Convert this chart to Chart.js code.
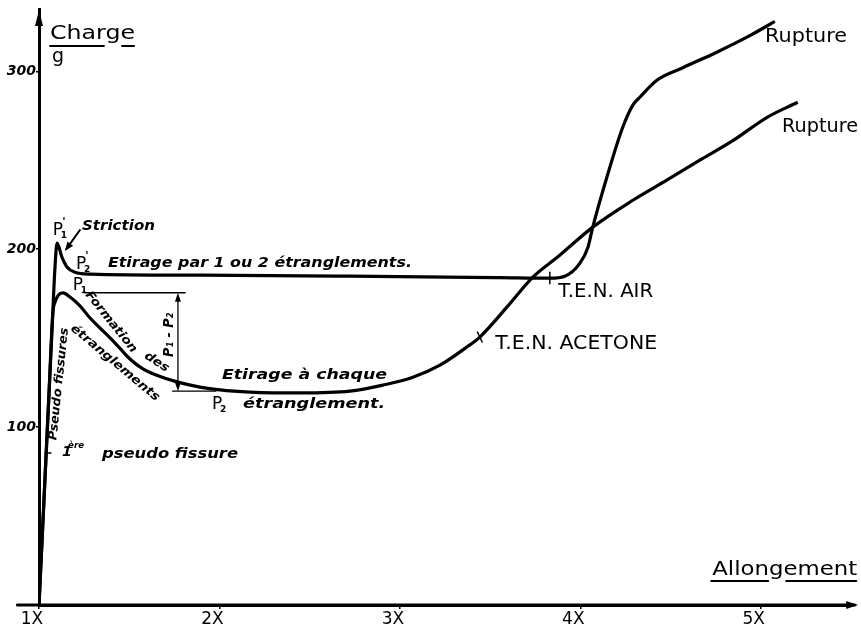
<!DOCTYPE html>
<html>
<head>
<meta charset="utf-8">
<script src="https://cdn.jsdelivr.net/npm/chart.js@4.4.1/dist/chart.umd.min.js"></script>
<style>
  html, body { margin: 0; padding: 0; background: #fff; }
  #wrap { width: 861px; height: 628px; }
</style>
</head>
<body>
<div id="wrap"><canvas id="chart" width="861" height="628"></canvas></div>
<script>
// allongement (X) and charge (g)
const airX = [1.0, 1.0336, 1.0537, 1.0721, 1.0887, 1.100, 1.127, 1.155, 1.199, 1.283, 1.892, 2.723, 3.554, 3.831, 3.914, 3.997, 4.042, 4.069, 4.147, 4.235, 4.291, 4.330, 4.424, 4.568, 4.756, 4.939, 5.078];
const airY = [0, 72, 115, 154.5, 190, 203.4, 195.5, 190, 187, 186, 185.4, 184.8, 184, 183.7, 184.8, 192, 201, 212.4, 240.4, 268.5, 281, 285.4, 295, 302, 310.7, 320, 328];

const acetoneX = [1.0, 1.0336, 1.0537, 1.0766, 1.090, 1.108, 1.133, 1.172, 1.227, 1.283, 1.338, 1.394, 1.449, 1.504, 1.576, 1.649, 1.765, 1.892, 2.003, 2.170, 2.447, 2.723, 2.906, 3.072, 3.222, 3.371, 3.443, 3.593, 3.737, 3.886, 4.069, 4.291, 4.479, 4.662, 4.845, 5.033, 5.205];
const acetoneY = [0, 72, 115, 164, 170.5, 174.3, 175.4, 173.1, 168.1, 161.3, 155.7, 150.1, 144.2, 138.3, 132.7, 129.3, 125.4, 122.5, 120.9, 119.7, 119.2, 120.2, 123.6, 128, 134.8, 145, 150.6, 167.4, 184.3, 196.6, 212.4, 227.5, 238.8, 250, 261, 274, 282.6];

const xTicks = [1, 2, 3, 4, 5];
const yTicks = [100, 200, 300];

const UP = '19px "DejaVu Sans"';
const IT = 'italic bold 14px "DejaVu Sans"';
const IT2 = 'italic bold 12px "DejaVu Sans"';
const CAPS = '20px "DejaVu Sans"';

// text written on the drawing (x, y in data units)
const notes = [
  { t: 'Charge', x: 1.061, y: 321.0, f: UP, w: 85 },
  { t: 'g', x: 1.072, y: 308.0, f: UP },
  { t: 'Allongement', x: 4.731, y: 19.7, f: UP, w: 145 },
  { t: 'Striction', x: 1.238, y: 213.0, f: IT, w: 73 },
  { t: 'Etirage par 1 ou 2 étranglements.', x: 1.382, y: 192.2, f: IT, w: 304 },
  { t: 'Formation', x: 1.399, y: 159.0, f: IT2, w: 75, r: 51, a: 'center' },
  { t: 'des', x: 1.652, y: 136.5, f: IT2, w: 27, r: 33, a: 'center' },
  { t: 'étranglements', x: 1.421, y: 136.0, f: IT2, w: 112, r: 40, a: 'center' },
  { t: 'P₁ - P₂', x: 1.721, y: 151.8, f: IT, w: 44, r: -90, a: 'center' },
  { t: 'Etirage à chaque', x: 2.014, y: 129.3, f: IT, w: 165 },
  { t: 'étranglement.', x: 2.131, y: 113.0, f: IT, w: 142 },
  { t: 'pseudo fissure', x: 1.349, y: 84.9, f: IT, w: 136 },
  { t: '1', x: 1.128, y: 86.0, f: IT },
  { t: 'ère', x: 1.161, y: 89.4, f: 'italic bold 9px "DejaVu Sans"', w: 16 },
  { t: 'Pseudo fissures', x: 1.111, y: 124.2, f: IT2, w: 113, r: -84, a: 'center' },
  { t: 'T.E.N. AIR', x: 3.877, y: 175.9, f: CAPS, w: 95 },
  { t: 'T.E.N. ACETONE', x: 3.528, y: 146.7, f: CAPS, w: 162 },
  { t: 'Rupture', x: 5.024, y: 319.3, f: CAPS, w: 82 },
  { t: 'Rupture', x: 5.118, y: 268.7, f: CAPS, w: 76 }
];

// P labels: [x, y, subscript, prime]
const pLabels = [
  [1.105, 210.2, '1', true],
  [1.233, 191.1, '2', true],
  [1.216, 179.3, '1', false],
  [1.987, 112.4, '2', false]
];

function text(ctx, n, X, Y) {
  ctx.save();
  ctx.font = n.f;
  ctx.textBaseline = 'middle';
  ctx.textAlign = n.a || 'left';
  ctx.translate(X(n.x), Y(n.y));
  if (n.r) ctx.rotate(n.r * Math.PI / 180);
  if (n.w) ctx.scale(n.w / ctx.measureText(n.t).width, 1);
  ctx.fillText(n.t, 0, 0);
  ctx.restore();
}

function line(ctx, x1, y1, x2, y2) {
  ctx.beginPath();
  ctx.moveTo(x1, y1);
  ctx.lineTo(x2, y2);
  ctx.stroke();
}

function head(ctx, x1, y1, x2, y2, len, half) {
  const a = Math.atan2(y2 - y1, x2 - x1);
  ctx.beginPath();
  ctx.moveTo(x2, y2);
  ctx.lineTo(x2 - len * Math.cos(a) + half * Math.sin(a), y2 - len * Math.sin(a) - half * Math.cos(a));
  ctx.lineTo(x2 - len * Math.cos(a) - half * Math.sin(a), y2 - len * Math.sin(a) + half * Math.cos(a));
  ctx.closePath();
  ctx.fill();
}

const drawing = {
  id: 'drawing',
  afterDraw(chart) {
    const ctx = chart.ctx;
    const xs = chart.scales.x, ys = chart.scales.y;
    const X = v => xs.getPixelForValue(v), Y = v => ys.getPixelForValue(v);
    const top = chart.chartArea.top;
    ctx.save();
    ctx.strokeStyle = '#000';
    ctx.fillStyle = '#000';
    ctx.lineCap = 'round';

    // axes run past the frame, with arrowheads
    ctx.lineWidth = 3;
    line(ctx, X(0.88), Y(0), X(5.52), Y(0));
    head(ctx, X(5.45), Y(0), X(5.54), Y(0), 12, 4);
    head(ctx, X(1), Y(300), X(1), top + 1, 16, 4);

    // thin construction lines
    ctx.lineWidth = 1.3;
    line(ctx, X(1.25), Y(175.5), X(1.81), Y(175.5));
    line(ctx, X(1.74), Y(120.2), X(1.98), Y(120.2));
    line(ctx, X(1.770), Y(172), X(1.770), Y(123.5));
    head(ctx, X(1.770), Y(160), X(1.770), Y(175.5), 9, 3);
    head(ctx, X(1.770), Y(135), X(1.770), Y(120.2), 9, 3);

    // Striction arrow
    ctx.lineWidth = 2;
    line(ctx, X(1.227), Y(210.8), X(1.152), Y(200.2));
    head(ctx, X(1.227), Y(210.8), X(1.144), Y(199.0), 9, 3.5);

    // little marks on the curves
    ctx.lineWidth = 1.5;
    line(ctx, X(3.831), Y(180.5), X(3.831), Y(187));
    line(ctx, X(3.43), Y(153.4), X(3.456), Y(147.8));
    line(ctx, X(1.033), Y(85.4), X(1.066), Y(85.4));

    // underlines
    ctx.lineWidth = 2;
    line(ctx, X(1.061), Y(314.2), X(1.36), Y(314.2));
    line(ctx, X(1.46), Y(314.2), X(1.527), Y(314.2));
    line(ctx, X(4.725), Y(13.5), X(5.041), Y(13.5));
    line(ctx, X(5.141), Y(13.5), X(5.529), Y(13.5));

    notes.forEach(n => text(ctx, n, X, Y));

    pLabels.forEach(([x, y, sub, prime]) => {
      const px = X(x), py = Y(y);
      ctx.textAlign = 'center';
      ctx.textBaseline = 'middle';
      ctx.font = '17px "DejaVu Sans"';
      ctx.fillText('P', px, py);
      ctx.font = 'bold 9px "DejaVu Sans"';
      ctx.fillText(sub, px + 6, py + 5);
      if (prime) {
        ctx.font = 'bold 11px "DejaVu Sans"';
        ctx.fillText("'", px + 6, py - 9);
      }
    });
    ctx.restore();
  }
};

const pts = (xs, ys) => xs.map((x, i) => ({ x: x, y: ys[i] }));

new Chart(document.getElementById('chart'), {
  type: 'line',
  data: {
    datasets: [
      { label: 'T.E.N. AIR', data: pts(airX, airY) },
      { label: 'T.E.N. ACETONE', data: pts(acetoneX, acetoneY) }
    ]
  },
  options: {
    responsive: false,
    animation: false,
    devicePixelRatio: 1,
    layout: { padding: { top: 9, right: 10, left: 0, bottom: 0 } },
    elements: {
      line: { borderColor: '#000', borderWidth: 3.2, cubicInterpolationMode: 'monotone', fill: false },
      point: { radius: 0 }
    },
    plugins: { legend: { display: false }, tooltip: { enabled: false } },
    scales: {
      x: {
        type: 'linear',
        min: 1,
        max: 5.5,
        afterBuildTicks: s => { s.ticks = xTicks.map(v => ({ value: v })); },
        afterFit: s => { s.height = 23; },
        border: { color: '#000', width: 3 },
        grid: { drawOnChartArea: false, tickLength: 4, color: '#000', lineWidth: 1.5 },
        ticks: {
          callback: v => v + 'X',
          color: '#000',
          font: { family: 'DejaVu Sans', size: 17 },
          padding: 0,
          labelOffset: -7,
          maxRotation: 0
        }
      },
      y: {
        min: 0,
        max: 335,
        afterBuildTicks: s => { s.ticks = yTicks.map(v => ({ value: v })); },
        afterFit: s => { s.width = 39; },
        border: { color: '#000', width: 3 },
        grid: { drawOnChartArea: false, tickLength: 3, color: '#000', lineWidth: 1.5 },
        ticks: {
          color: '#000',
          font: { family: 'DejaVu Sans', size: 14, style: 'italic', weight: 'bold' },
          padding: 0
        }
      }
    }
  },
  plugins: [drawing]
});
</script>
</body>
</html>
